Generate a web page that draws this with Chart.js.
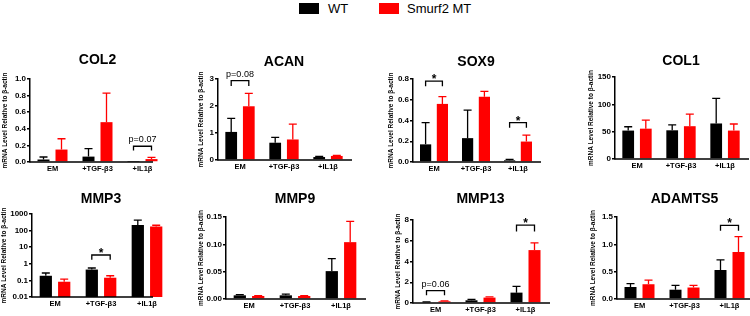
<!DOCTYPE html>
<html><head><meta charset="utf-8">
<script src="https://cdn.jsdelivr.net/npm/chart.js@4.4.0/dist/chart.umd.min.js"></script>
<style>
html,body{margin:0;padding:0;background:#fff;}
body{width:750px;height:316px;position:relative;overflow:hidden;font-family:'Liberation Sans',Arial,sans-serif;}
canvas{position:absolute;}
.lg{position:absolute;font-size:13px;color:#000;line-height:15px;}
.sw{position:absolute;width:20px;height:11px;}
</style></head><body>
<div class="sw" style="left:299px;top:3px;background:#000"></div>
<div class="lg" style="left:328px;top:1px">WT</div>
<div class="sw" style="left:379px;top:3px;background:#ff0000"></div>
<div class="lg" style="left:407px;top:1px">Smurf2 MT</div>
<script>
const categories = ['EM', '+TGF-β3', '+IL1β'];
const seriesNames = ['WT', 'Smurf2 MT'];
const yTitle = 'mRNA Level Relative to β-actin';

// COL2
const col2WT = [0.03, 0.065, 0.003];
const col2WTErr = [0.03, 0.095, 0];
const col2MT = [0.15, 0.48, 0.035];
const col2MTErr = [0.13, 0.35, 0.02];
const col2Ticks = ['0.0', '0.2', '0.4', '0.6', '0.8', '1.0'];
const col2Marks = [{cat: 2, top: 0.19, leg: 0.14, text: 'p=0.07'}];

// ACAN
const acanWT = [1.04, 0.64, 0.11];
const acanWTErr = [0.50, 0.20, 0.02];
const acanMT = [1.99, 0.76, 0.15];
const acanMTErr = [0.48, 0.57, 0.02];
const acanTicks = ['0', '1', '2', '3'];
const acanMarks = [{cat: 0, top: 2.94, leg: 2.74, text: 'p=0.08'}];

// SOX9
const sox9WT = [0.17, 0.23, 0.016];
const sox9WTErr = [0.21, 0.27, 0.01];
const sox9MT = [0.56, 0.63, 0.197];
const sox9MTErr = [0.07, 0.05, 0.063];
const sox9Ticks = ['0.0', '0.2', '0.4', '0.6', '0.8'];
const sox9Marks = [{cat: 0, top: 0.78, leg: 0.73, text: '*'}, {cat: 2, top: 0.38, leg: 0.33, text: '*'}];

// COL1
const col1WT = [52, 52.5, 65];
const col1WTErr = [7, 10, 46];
const col1MT = [55.5, 60, 52];
const col1MTErr = [15.5, 22, 12];
const col1Ticks = ['0', '50', '100', '150'];
const col1Marks = [];

// MMP3 (log scale)
const mmp3WT = [0.19, 0.45, 220];
const mmp3WTErr = [0.09, 0.11, 205];
const mmp3MT = [0.083, 0.145, 175];
const mmp3MTErr = [0.037, 0.045, 35];
const mmp3Ticks = ['0.01', '0.1', '1', '10', '100', '1000'];
const mmp3Marks = [{cat: 1, top: 3.4, leg: 1.75, text: '*'}];

// MMP9
const mmp9WT = [0.0067, 0.0067, 0.051];
const mmp9WTErr = [0.0013, 0.0023, 0.023];
const mmp9MT = [0.0055, 0.0055, 0.104];
const mmp9MTErr = [0.0005, 0.0005, 0.038];
const mmp9Ticks = ['0.00', '0.05', '0.10', '0.15'];
const mmp9Marks = [];

// MMP13
const mmp13WT = [0.07, 0.26, 1.0];
const mmp13WTErr = [0.03, 0.09, 0.6];
const mmp13MT = [0.16, 0.52, 5.1];
const mmp13MTErr = [0.04, 0.08, 0.7];
const mmp13Ticks = ['0', '2', '4', '6', '8'];
const mmp13Marks = [{cat: 0, top: 1.2, leg: 0.74, text: 'p=0.06'}, {cat: 2, top: 7.5, leg: 6.9, text: '*'}];

// ADAMTS5
const adamWT = [0.22, 0.17, 0.53];
const adamWTErr = [0.06, 0.08, 0.185];
const adamMT = [0.27, 0.21, 0.86];
const adamMTErr = [0.075, 0.04, 0.28];
const adamTicks = ['0.0', '0.5', '1.0', '1.5'];
const adamMarks = [{cat: 2, top: 1.345, leg: 1.25, text: '*'}];

const genes = ['COL2', 'ACAN', 'SOX9', 'COL1', 'MMP3', 'MMP9', 'MMP13', 'ADAMTS5'];
const wtSets = [col2WT, acanWT, sox9WT, col1WT, mmp3WT, mmp9WT, mmp13WT, adamWT];
const wtErrSets = [col2WTErr, acanWTErr, sox9WTErr, col1WTErr, mmp3WTErr, mmp9WTErr, mmp13WTErr, adamWTErr];
const mtSets = [col2MT, acanMT, sox9MT, col1MT, mmp3MT, mmp9MT, mmp13MT, adamMT];
const mtErrSets = [col2MTErr, acanMTErr, sox9MTErr, col1MTErr, mmp3MTErr, mmp9MTErr, mmp13MTErr, adamMTErr];
const tickSets = [col2Ticks, acanTicks, sox9Ticks, col1Ticks, mmp3Ticks, mmp9Ticks, mmp13Ticks, adamTicks];
const markSets = [col2Marks, acanMarks, sox9Marks, col1Marks, mmp3Marks, mmp9Marks, mmp13Marks, adamMarks];
const logScale = [false, false, false, false, true, false, false, false];

// layout (pixels): axis x, plot top, plot bottom, title centre y, category spacing, y-axis box width, x-axis line length
const layouts = [
  {ax: 30,  top: 79,  bot: 162, ty: 60,  s: 45, yw: 29, al: 123},
  {ax: 218, top: 79,  bot: 160, ty: 62,  s: 44, yw: 21, al: 150},
  {ax: 413, top: 79,  bot: 162, ty: 62,  s: 42, yw: 26, al: 134},
  {ax: 615, top: 77,  bot: 159, ty: 61,  s: 44, yw: 28, al: 135},
  {ax: 32,  top: 214, bot: 297, ty: 199, s: 46, yw: 32, al: 121},
  {ax: 226, top: 217, bot: 299, ty: 199, s: 46, yw: 29, al: 142},
  {ax: 413, top: 220, bot: 303, ty: 199, s: 45, yw: 19, al: 139},
  {ax: 617, top: 217, bot: 299, ty: 199, s: 45, yw: 28, al: 133}
];

const FONT = "'Liberation Sans', Arial, sans-serif";
Chart.defaults.font.family = FONT;

const extras = {
  id: 'extras',
  afterDatasetsDraw(chart, args, opts) {
    const ctx = chart.ctx, ys = chart.scales.y, ca = chart.chartArea;
    ctx.save();
    chart.data.datasets.forEach((ds, di) => {
      const meta = chart.getDatasetMeta(di);
      meta.data.forEach((el, i) => {
        const e = ds.errors[i];
        if (!e) return;
        const yt = ys.getPixelForValue(ds.data[i] + e);
        ctx.strokeStyle = ds.backgroundColor;
        ctx.lineWidth = 1.3;
        ctx.beginPath();
        ctx.moveTo(el.x, el.y);
        ctx.lineTo(el.x, yt);
        ctx.moveTo(el.x - 4, yt);
        ctx.lineTo(el.x + 4, yt);
        ctx.stroke();
      });
    });
    ctx.strokeStyle = '#000';
    ctx.lineWidth = 1.5;
    ctx.beginPath();
    ctx.moveTo(ca.left - 0.75, ca.bottom);
    ctx.lineTo(ca.left + opts.axisLen, ca.bottom);
    ctx.stroke();
    (opts.marks || []).forEach(m => {
      const x1 = chart.getDatasetMeta(0).data[m.cat].x;
      const x2 = chart.getDatasetMeta(1).data[m.cat].x;
      const yt = ys.getPixelForValue(m.top), yl = ys.getPixelForValue(m.leg);
      ctx.strokeStyle = '#000';
      ctx.lineWidth = 1.3;
      ctx.beginPath();
      ctx.moveTo(x1, yl); ctx.lineTo(x1, yt); ctx.lineTo(x2, yt); ctx.lineTo(x2, yl);
      ctx.stroke();
      ctx.fillStyle = '#000';
      ctx.textAlign = 'center';
      ctx.textBaseline = 'alphabetic';
      if (m.text === '*') {
        ctx.font = 'bold 12px ' + FONT;
        ctx.fillText(m.text, (x1 + x2) / 2, yt + 2);
      } else {
        ctx.font = '9px ' + FONT;
        ctx.fillText(m.text, (x1 + x2) / 2, yt - 4);
      }
    });
    ctx.restore();
  }
};

genes.forEach((g, k) => {
  const L = layouts[k];
  const cTop = Math.round(L.ty - 8.4);
  const titlePadBottom = L.top - cTop - 16.8;
  const w = L.yw + 3 * L.s + 2;
  const h = L.bot - cTop + 14;
  const cv = document.createElement('canvas');
  cv.width = w; cv.height = h;
  cv.style.left = (L.ax - L.yw) + 'px';
  cv.style.top = cTop + 'px';
  cv.style.width = w + 'px'; cv.style.height = h + 'px';
  document.body.appendChild(cv);
  const tl = tickSets[k];
  const tv = tl.map(parseFloat);
  new Chart(cv, {
    type: 'bar',
    data: {
      labels: categories,
      datasets: [
        {label: seriesNames[0], data: wtSets[k], errors: wtErrSets[k], backgroundColor: '#000000'},
        {label: seriesNames[1], data: mtSets[k], errors: mtErrSets[k], backgroundColor: '#ff0000'}
      ]
    },
    options: {
      responsive: false,
      animation: false,
      devicePixelRatio: 1,
      categoryPercentage: 0.8,
      barPercentage: 0.667,
      layout: {padding: {top: 0, right: 2, bottom: 0, left: 0}},
      plugins: {
        legend: {display: false},
        tooltip: {enabled: false},
        title: {display: true, text: g, fullSize: false, color: '#000',
                font: {size: 14, weight: 'bold'}, padding: {top: 0, bottom: titlePadBottom}},
        extras: {marks: markSets[k], axisLen: L.al}
      },
      scales: {
        x: {
          offset: true,
          grid: {display: false, drawTicks: false},
          border: {display: false},
          ticks: {color: '#000', font: {size: 7.5, weight: 'bold'}, padding: 2, maxRotation: 0, autoSkip: false},
          afterFit: s => { s.height = 14; }
        },
        y: {
          type: logScale[k] ? 'logarithmic' : 'linear',
          min: tv[0], max: tv[tv.length - 1],
          afterBuildTicks: s => { s.ticks = tv.map(v => ({value: v})); },
          afterFit: s => { s.width = L.yw; },
          grid: {display: true, drawOnChartArea: false, drawTicks: true, tickLength: 3, color: '#000', lineWidth: 1.5},
          border: {display: true, color: '#000', width: 1.5},
          ticks: {color: '#000', font: {size: 8, weight: 'bold'}, padding: 1, autoSkip: false,
                  callback: (v, i) => tl[i]},
          title: {display: true, text: yTitle, color: '#000', font: {size: 6.5, weight: 'bold'}, padding: 0}
        }
      }
    },
    plugins: [extras]
  });
});
</script>
</body></html>
